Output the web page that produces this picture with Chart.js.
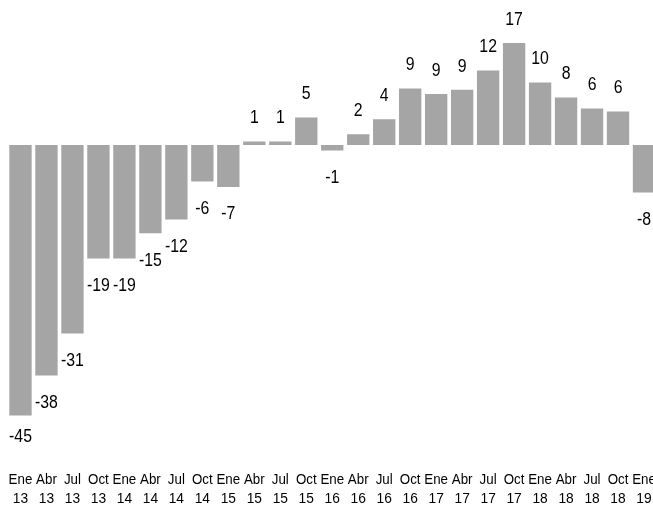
<!DOCTYPE html>
<html>
<head>
<meta charset="utf-8">
<script src="https://cdn.jsdelivr.net/npm/chart.js@4"></script>
<style>
  html, body { margin: 0; padding: 0; background: #fff; overflow: hidden; }
  #wrap { width: 657px; height: 506px; }
</style>
</head>
<body>
<div id="wrap"><canvas id="myChart" width="657" height="506"></canvas></div>
<script>
// trimestres y años (dos líneas por etiqueta)
const meses = ['Ene', 'Abr', 'Jul', 'Oct', 'Ene', 'Abr', 'Jul', 'Oct', 'Ene', 'Abr', 'Jul', 'Oct', 'Ene',
  'Abr', 'Jul', 'Oct', 'Ene', 'Abr', 'Jul', 'Oct', 'Ene', 'Abr', 'Jul', 'Oct', 'Ene'];
const anios = ['13', '13', '13', '13', '14', '14', '14', '14', '15', '15', '15', '15', '16',
  '16', '16', '16', '17', '17', '17', '17', '18', '18', '18', '18', '19'];
const valores = [-45.1, -38.4, -31.4, -18.9, -18.9, -14.7, -12.4, -6.1, -7.0, 0.6, 0.6, 4.6, -0.9,
  1.8, 4.3, 9.4, 8.5, 9.2, 12.4, 17.0, 10.4, 7.9, 6.1, 5.6, -7.9];

const fuente = "'Liberation Sans', Arial, sans-serif";

const etiquetas = meses.map((m, i) => [m, anios[i]]);

// texto "estrecho": se escala en horizontal para parecerse a Calibri
function textoEstrecho(ctx, txt, x, y, escala) {
  ctx.save();
  ctx.translate(x, y);
  ctx.scale(escala, 1);
  ctx.fillText(txt, 0, 0);
  ctx.restore();
}

// etiquetas de datos encima / debajo de cada barra y etiquetas del eje x
const textosPlugin = {
  id: 'textosPlugin',
  afterDatasetsDraw(chart) {
    const ctx = chart.ctx;
    const meta = chart.getDatasetMeta(0);
    ctx.save();
    ctx.fillStyle = '#000';
    ctx.textAlign = 'center';
    ctx.textBaseline = 'alphabetic';

    ctx.font = '18px ' + fuente;
    meta.data.forEach((bar, i) => {
      const v = valores[i];
      const txt = String(Math.round(v));
      if (v >= 0) {
        textoEstrecho(ctx, txt, bar.x, bar.y - 18.3, 0.88);
      } else {
        textoEstrecho(ctx, txt, bar.x, Math.min(bar.y + 32.4, 442), 0.88);
      }
    });

    const xScale = chart.scales.x;
    ctx.font = '14.5px ' + fuente;
    etiquetas.forEach((lineas, i) => {
      const x = xScale.getPixelForValue(i);
      textoEstrecho(ctx, lineas[0], x, 484, 0.92);
      textoEstrecho(ctx, lineas[1], x, 502.5, 0.95);
    });
    ctx.restore();
  }
};

const chartElement = document.getElementById('myChart').getContext('2d');

new Chart(chartElement, {
  type: 'bar',
  data: {
    labels: etiquetas,
    datasets: [{
      data: valores,
      backgroundColor: '#a5a5a5',
      borderWidth: 0,
      barPercentage: 0.86,
      categoryPercentage: 1
    }]
  },
  options: {
    responsive: false,
    animation: false,
    layout: {
      padding: { left: 7.5, right: 0, top: 1, bottom: 0 }
    },
    plugins: {
      legend: { display: false },
      tooltip: { enabled: false }
    },
    scales: {
      x: {
        grid: { display: false },
        border: { display: false },
        ticks: { display: false },
        afterFit(scale) {
          scale.height = 49;
        }
      },
      y: {
        display: false,
        min: -52,
        max: 24
      }
    }
  },
  plugins: [textosPlugin]
});
</script>
</body>
</html>
